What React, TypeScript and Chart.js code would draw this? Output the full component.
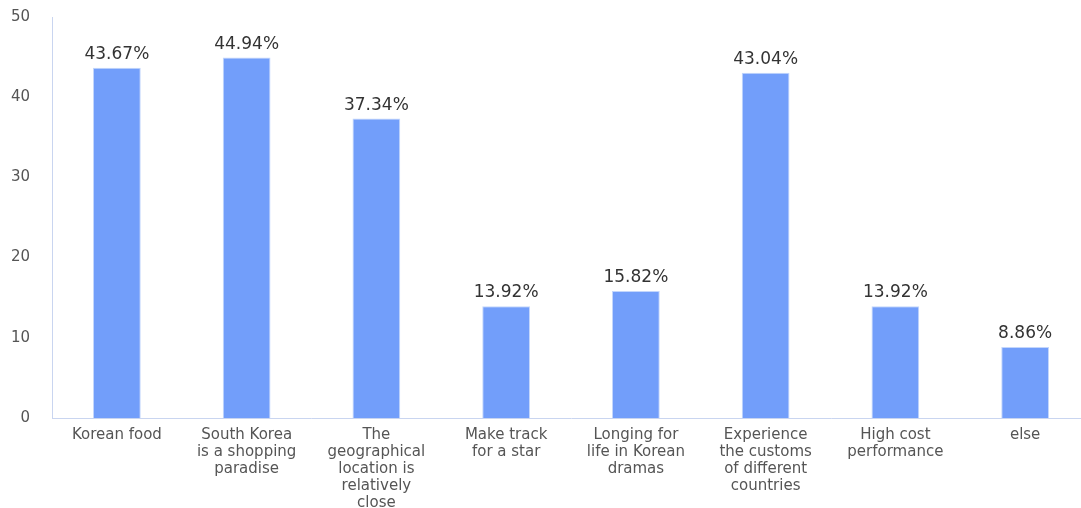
import React, { useEffect, useRef } from "react";
import { Chart, registerables } from "chart.js";

Chart.register(...registerables);

const categories: string[][] = [
  ["Korean food"],
  ["South Korea", "is a shopping", "paradise"],
  ["The", "geographical", "location is", "relatively", "close"],
  ["Make track", "for a star"],
  ["Longing for", "life in Korean", "dramas"],
  ["Experience", "the customs", "of different", "countries"],
  ["High cost", "performance"],
  ["else"],
];
const values: number[] = [43.67, 44.94, 37.34, 13.92, 15.82, 43.04, 13.92, 8.86];
const yMin = 0;
const yMax = 50;
const yStep = 10;

const FONT = "'DejaVu Sans', sans-serif";

const valueLabels = {
  id: "valueLabels",
  afterDatasetsDraw(chart: any) {
    const ctx = chart.ctx;
    const meta = chart.getDatasetMeta(0);
    ctx.save();
    ctx.font = `17px ${FONT}`;
    ctx.fillStyle = "#333333";
    ctx.textAlign = "center";
    ctx.textBaseline = "alphabetic";
    meta.data.forEach((bar: any, i: number) => {
      ctx.fillText(values[i].toFixed(2) + "%", bar.x, bar.y - 9);
    });
    ctx.restore();
  },
};

export default function App() {
  const ref = useRef<HTMLCanvasElement | null>(null);
  useEffect(() => {
    if (!ref.current) return;
    const chart = new Chart(ref.current, {
      type: "bar",
      data: {
        labels: categories,
        datasets: [
          {
            data: values,
            backgroundColor: "#729EFA",
            borderColor: "#C3D6FC",
            borderWidth: 1,
            categoryPercentage: 0.8,
            barPercentage: 0.46,
          },
        ],
      },
      options: {
        responsive: false,
        animation: false,
        layout: { padding: { top: 17, right: 10, left: 0, bottom: 0 } },
        plugins: {
          legend: { display: false },
          tooltip: { enabled: false },
        },
        scales: {
          x: {
            grid: { display: false, drawTicks: false },
            border: { display: true, color: "#C9D5F0", width: 1 },
            ticks: {
              color: "#555555",
              font: { family: FONT, size: 15, lineHeight: 1.13 },
              padding: 9,
              maxRotation: 0,
              autoSkip: false,
            },
            afterFit: (s: any) => {
              s.height = 90;
              s.paddingTop = 0;
              s.paddingBottom = 0;
            },
          },
          y: {
            min: yMin,
            max: yMax,
            grid: { display: false, drawTicks: false },
            border: { display: true, color: "#C9D5F0", width: 1 },
            ticks: {
              stepSize: yStep,
              color: "#555555",
              font: { family: FONT, size: 15 },
              padding: 22,
            },
            afterFit: (s: any) => {
              s.width = 52;
              s.paddingTop = 0;
              s.paddingBottom = 0;
            },
          },
        },
      },
      plugins: [valueLabels],
    });
    return () => chart.destroy();
  }, []);
  return (
    <div
      style={{
        position: "fixed",
        left: 0,
        top: 0,
        width: 1081,
        height: 508,
        overflow: "hidden",
        background: "#fff",
      }}
    >
      <canvas ref={ref} width={1100} height={508} style={{ display: "block" }} />
    </div>
  );
}
